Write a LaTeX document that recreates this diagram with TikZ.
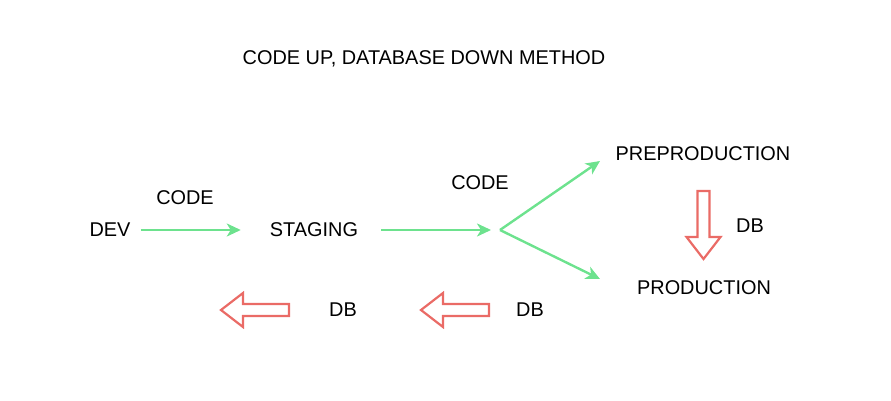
\documentclass[tikz,border=0pt]{standalone}
\usepackage{fontspec}
\setmainfont{Liberation Sans}
\usetikzlibrary{arrows.meta}
\definecolor{codegreen}{HTML}{6DE28E}
\definecolor{dbred}{HTML}{EA6B66}

\begin{document}
\begin{tikzpicture}[
  x=1pt, y=-1pt,
  font=\fontsize{19.9}{24}\selectfont,
  label/.style={inner sep=0pt, anchor=center},
  codearrow/.style={-{Stealth[length=14pt,width=13pt,inset=4pt]}, line width=2.4pt, draw=codegreen},
  dbline/.style={draw=dbred, line width=2.2pt, line join=miter},
  dbarrow/.pic={\draw[dbline] (0,0) -- (22,-17) -- (22,-6) -- (68,-6) -- (68,6) -- (22,6) -- (22,17) -- cycle;}
]
  \useasboundingbox (0,0) rectangle (891,401);
  \node[label] (title) at (424,59) {CODE UP, DATABASE DOWN METHOD};

  \node[label] (dev) at (110,230) {DEV};
  \node[label] (staging) at (314,230) {STAGING};
  \node[label] (preprod) at (703,154) {PREPRODUCTION};
  \node[label] (prod) at (704,288) {PRODUCTION};
  \node[label] (code1) at (185,198) {CODE};
  \node[label] (code2) at (480,183) {CODE};
  \node[label] (db1) at (750,226) {DB};
  \node[label] (db2) at (343,310) {DB};
  \node[label] (db3) at (530,310) {DB};

  \coordinate (fork) at (500,230);
  \coordinate (preprodin) at (600,161);
  \coordinate (prodin) at (600,279);

  \draw[codearrow, shorten <=10pt, shorten >=29pt] (dev.east) -- (staging.west);
  \draw[codearrow, shorten <=23pt, shorten >=9pt] (staging.east) -- (fork);
  \draw[codearrow] (fork) -- (preprodin);
  \draw[codearrow] (fork) -- (prodin);

  % database flows back down
  \pic[rotate=90] at (703.5,259) {dbarrow};
  \pic at (221,310) {dbarrow};
  \pic at (421,310) {dbarrow};
\end{tikzpicture}
\end{document}
